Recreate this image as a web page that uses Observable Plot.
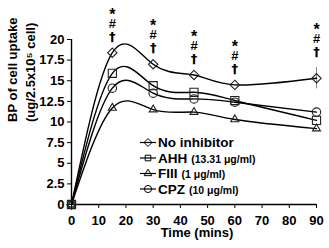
<!DOCTYPE html>
<html><head><meta charset="utf-8">
<script src="https://cdn.jsdelivr.net/npm/d3@7"></script>
<script src="https://cdn.jsdelivr.net/npm/@observablehq/plot@0.6"></script>
<style>
body{margin:0;background:#fff}
svg{font-family:"Liberation Sans",Arial,sans-serif}
</style>
</head><body><div id="chart"></div>
<script>
const time = [0, 15, 30, 45, 60, 90];
const noInhibitor = [0, 18.4, 17.0, 15.7, 14.5, 15.3];
const noInhibitorSD = [0, 0, 0, 0, 0, 1.3];
const ahh = [0, 15.9, 14.4, 13.6, 12.6, 10.2];
const fiii = [0, 11.7, 11.5, 11.2, 10.3, 9.2];
const cpz = [0, 14.1, 13.5, 12.8, 12.4, 11.2];

const seriesNames = ["No inhibitor", "AHH", "FIII", "CPZ"];
const seriesDoses = ["", "(13.31 μg/ml)", "(1 μg/ml)", "(10 μg/ml)"];
const seriesSymbols = ["diamond2", "square2", "triangle2", "circle"];
const seriesValues = [noInhibitor, ahh, fiii, cpz];
const seriesR = [4.2, 5.2, 3.8, 4.2];

const xTicks = [0, 10, 20, 30, 40, 50, 60, 70, 80, 90];
const yTicks = [0, 2.5, 5, 7.5, 10, 12.5, 15, 17.5, 20];
const sigTimes = [15, 30, 45, 60, 90];
const sigSymbols = ["†", "#", "*"];

const xTitle = "Time (mins)";
const yTitle1 = "BP of cell uptake";
const yTitle2 = "(ug/2.5x10⁵ cell)";

const series = seriesNames.map((name, s) =>
  time.map((t, i) => ({name, t, v: seriesValues[s][i]})));

const sigRows = sigTimes.map(t => {
  const i = time.indexOf(t);
  return {t, v: noInhibitor[i] + noInhibitorSD[i]};
});
const errRows = time.map((t, i) => ({t, lo: noInhibitor[i] - noInhibitorSD[i], hi: noInhibitor[i] + noInhibitorSD[i], sd: noInhibitorSD[i]})).filter(d => d.sd > 0);

const FONT = '"Liberation Sans", Arial, sans-serif';
const marks = [
  Plot.ruleX([0], {y1: 0, y2: 20, stroke: "#000", strokeWidth: 1.4}),
  Plot.ruleY([0], {x1: 0, x2: 90, stroke: "#000", strokeWidth: 1.4}),
  Plot.ruleX(errRows, {x: "t", y1: "lo", y2: "hi", stroke: "#888", strokeWidth: 1}),
];
series.forEach((rows, s) => {
  marks.push(Plot.line(rows, {x: "t", y: "v", curve: "natural", stroke: "#000", strokeWidth: 1.4}));
  marks.push(Plot.dot(rows, {x: "t", y: "v", symbol: () => seriesSymbols[s], r: seriesR[s], stroke: "#222", strokeWidth: 1.1, fill: "none"}));
});
const sigDy = [-16, -29, -38];
const sigSize = [13, 13, 16];
sigSymbols.forEach((sym, k) => {
  marks.push(Plot.text(sigRows, {x: "t", y: "v", text: () => sym, dy: sigDy[k], fontSize: sigSize[k], fontWeight: "bold", fontFamily: k === 0 ? '"DejaVu Sans", sans-serif' : FONT, fill: "black"}));
});
marks.push(Plot.text([xTitle], {frameAnchor: "bottom", text: d => d, dx: 3, dy: 32, fontSize: 13, fontWeight: "bold", fill: "#000"}));
marks.push(Plot.text([yTitle1], {frameAnchor: "left", text: d => d, rotate: -90, dx: -59, fontSize: 13, fontWeight: "bold", fill: "#000"}));
marks.push(Plot.text([yTitle2], {frameAnchor: "left", text: d => d, rotate: -90, dx: -41, fontSize: 13, fontWeight: "bold", fill: "#000"}));

const chart = Plot.plot({
  width: 329, height: 248,
  marginLeft: 71, marginRight: 13, marginTop: 39, marginBottom: 44,
  style: {fontFamily: FONT, fontSize: "13px", fontWeight: "bold", color: "#000", background: "#fff"},
  x: {domain: [0, 90], ticks: xTicks, tickSize: 4, tickPadding: 7, label: null, tickFormat: d => String(d)},
  y: {domain: [0, 20], ticks: yTicks, tickSize: 4, tickPadding: 3, label: null, tickFormat: d => String(d)},
  marks
});
document.getElementById("chart").appendChild(chart);

// Legend
const svg = d3.select(chart);
const lg = svg.append("g").attr("text-anchor", "start");
const rowY = [142.5, 158, 173.5, 189];
seriesNames.forEach((name, s) => {
  const y = rowY[s];
  const g = lg.append("g");
  g.append("line").attr("x1", 140).attr("x2", 156).attr("y1", y).attr("y2", y).attr("stroke", "#000").attr("stroke-width", 1.2);
  const sym = {diamond2: d3.symbolDiamond2, square2: d3.symbolSquare2, triangle2: d3.symbolTriangle2, circle: d3.symbolCircle}[seriesSymbols[s]];
  g.append("path").attr("d", d3.symbol(sym, 40)()).attr("transform", `translate(148,${y})`).attr("fill", "none").attr("stroke", "#000").attr("stroke-width", 1);
  const t = g.append("text").attr("x", 158).attr("y", y).attr("dy", "0.36em").attr("font-weight", "bold").attr("fill", "#000").attr("text-anchor", "start");
  t.append("tspan").attr("font-size", 13.5).text(name);
  if (seriesDoses[s]) t.append("tspan").attr("font-size", 10.5).attr("dx", 4).text(seriesDoses[s]);
});
</script>
</body></html>
